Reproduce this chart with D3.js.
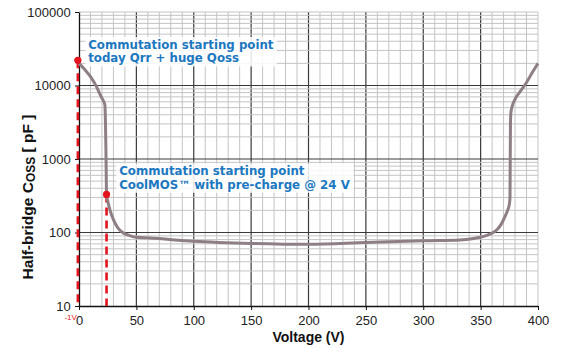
<!DOCTYPE html>
<html>
<head>
<meta charset="utf-8">
<script src="https://cdn.jsdelivr.net/npm/d3@7"></script>
<style>
  body { margin: 0; background: #fff; }
  svg { display: block; }
</style>
</head>
<body>
<div id="chart"></div>
<script>
// Half-bridge Coss vs voltage
const voltage = [0, 5, 10, 15, 19, 21, 22.5, 23, 23.5, 24, 25, 27, 30, 34, 38, 43, 50, 62, 100, 150, 200, 250, 300, 332, 344, 352, 358, 364, 368, 371.2, 373.5, 375, 375.6, 375.8, 376, 376.4, 377.5, 380, 385, 390, 395, 400];
const coss = [20000, 16500, 13200, 9800, 7200, 6300, 5500, 3500, 1200, 330, 270, 202, 150, 115, 100, 92, 86, 84, 76, 71, 69, 73, 77, 79, 83, 88, 95, 108, 130, 164, 200, 240, 300, 1000, 3000, 4300, 5200, 6500, 8500, 11000, 15000, 20000];

const xTicks = [0, 50, 100, 150, 200, 250, 300, 350, 400];
const yTicks = [10, 100, 1000, 10000, 100000];

// commutation starting points
const startPoints = [
  { v: -1, c: 22000 },
  { v: 24, c: 330 }
];
const notes = [
  { v: 8, c: 31400, lines: ["Commutation starting point", "today Qrr + huge Qoss"] },
  { v: 35, c: 600, lines: ["Commutation starting point", "CoolMOS\u2122 with pre-charge @ 24 V"] }
];

const width = 562, height = 348;
const margin = { left: 79, top: 12, right: 24, bottom: 42 };
const innerW = width - margin.left - margin.right,
  innerH = height - margin.top - margin.bottom;

const svg = d3.select("#chart").append("svg")
  .attr("width", width)
  .attr("height", height);

const x = d3.scaleLinear().domain([0, 400]).range([margin.left, margin.left + innerW]);
const y = d3.scaleLog().domain([10, 100000]).range([margin.top + innerH, margin.top]);

// grid: light every 10 V and every minor decade step, dark every 50 V and each decade
const grid = svg.append("g");
const minorX = d3.range(10, 401, 10);
grid.selectAll(".vx").data(minorX).join("line")
  .attr("x1", d => x(d)).attr("x2", d => x(d))
  .attr("y1", margin.top).attr("y2", margin.top + innerH)
  .attr("stroke", d => (d % 50 === 0 && d < 400) ? "#3a3a3a" : "#c4c4c4")
  .attr("stroke-width", d => (d % 50 === 0 && d < 400) ? 1.2 : 1);

const minorY = [];
for (let p = 10; p < 100000; p *= 10) {
  for (let k = 2; k <= 10; k++) minorY.push(p * k);
}
grid.selectAll(".hy").data(minorY).join("line")
  .attr("x1", margin.left).attr("x2", margin.left + innerW)
  .attr("y1", d => y(d)).attr("y2", d => y(d))
  .attr("stroke", d => (yTicks.includes(d) && d < 100000) ? "#3a3a3a" : "#c4c4c4")
  .attr("stroke-width", d => (yTicks.includes(d) && d < 100000) ? 1.2 : 1);

// annotation boxes sit over the grid, under the curve
const noteLayer = svg.append("g");

// axes
const xAxis = svg.append("g")
  .attr("transform", `translate(0,${margin.top + innerH})`)
  .call(d3.axisBottom(x).tickValues(xTicks).tickSize(4).tickSizeOuter(0));
const yAxis = svg.append("g")
  .attr("transform", `translate(${margin.left},0)`)
  .call(d3.axisLeft(y).tickValues(yTicks).tickFormat(d3.format("d")).tickSize(4).tickSizeOuter(0));

[xAxis, yAxis].forEach(a => {
  a.select(".domain").attr("stroke", "#111").attr("stroke-width", 1.3);
  a.selectAll(".tick line").attr("stroke", "#111");
  a.selectAll("text")
    .attr("fill", "#222")
    .style("font-family", "'Liberation Sans', Arial, sans-serif")
    .style("font-size", "13px");
});
xAxis.selectAll("text").attr("dy", "0.95em");
yAxis.selectAll("text").attr("dx", "-0.1em");

// axis titles
svg.append("text")
  .attr("x", x(200))
  .attr("y", 342)
  .attr("text-anchor", "middle")
  .style("font-family", "'Liberation Sans', Arial, sans-serif")
  .style("font-size", "14px")
  .style("font-weight", "bold")
  .attr("fill", "#111")
  .text("Voltage (V)");

const yTitle = svg.append("text")
  .attr("transform", "translate(33,197) rotate(-90)")
  .attr("text-anchor", "middle")
  .style("font-family", "'Liberation Sans', Arial, sans-serif")
  .style("font-size", "15.5px")
  .style("font-weight", "bold")
  .attr("fill", "#111");
yTitle.append("tspan").text("Half-bridge C");
yTitle.append("tspan").attr("dy", 2).style("font-size", "12px").text("OSS");
yTitle.append("tspan").attr("dy", -2).text(" [ pF ]");

notes.forEach(n => {
  const g = noteLayer.append("g");
  const bg = g.append("rect").attr("fill", "#fff").attr("opacity", 0.85);
  const t = g.append("text")
    .style("font-family", "'DejaVu Sans', Verdana, sans-serif")
    .style("font-size", "11.8px")
    .style("font-weight", "bold")
    .attr("fill", "#1c78c0");
  n.lines.forEach((s, i) => {
    t.append("tspan")
      .attr("x", x(n.v))
      .attr("y", y(n.c) + i * 13.5)
      .text(s);
  });
  const b = t.node().getBBox();
  bg.attr("x", b.x - 3).attr("y", b.y - 1)
    .attr("width", b.width + 6).attr("height", b.height + 2);
});

// red dashed drop lines from the starting points
svg.selectAll(".drop").data(startPoints).join("line")
  .attr("x1", d => x(d.v)).attr("x2", d => x(d.v))
  .attr("y1", d => y(d.c)).attr("y2", margin.top + innerH)
  .attr("stroke", "#e3141e")
  .attr("stroke-width", 2.6)
  .attr("stroke-dasharray", "8,5");

// the curve
const line = d3.line()
  .x((d, i) => x(voltage[i]))
  .y(d => y(d))
  .curve(d3.curveMonotoneX);

svg.append("path")
  .datum(coss)
  .attr("d", line)
  .attr("fill", "none")
  .attr("stroke", "#8e7f86")
  .attr("stroke-width", 3)
  .attr("stroke-linejoin", "round");

svg.selectAll(".pt").data(startPoints).join("circle")
  .attr("cx", d => x(d.v))
  .attr("cy", d => y(d.c))
  .attr("r", 3.6)
  .attr("fill", "#e3141e");

svg.append("text")
  .attr("x", x(-1) - 1)
  .attr("y", 320)
  .attr("text-anchor", "end")
  .style("font-family", "'Liberation Sans', Arial, sans-serif")
  .style("font-size", "8px")
  .attr("fill", "#e3141e")
  .text("-1V");
</script>
</body>
</html>
